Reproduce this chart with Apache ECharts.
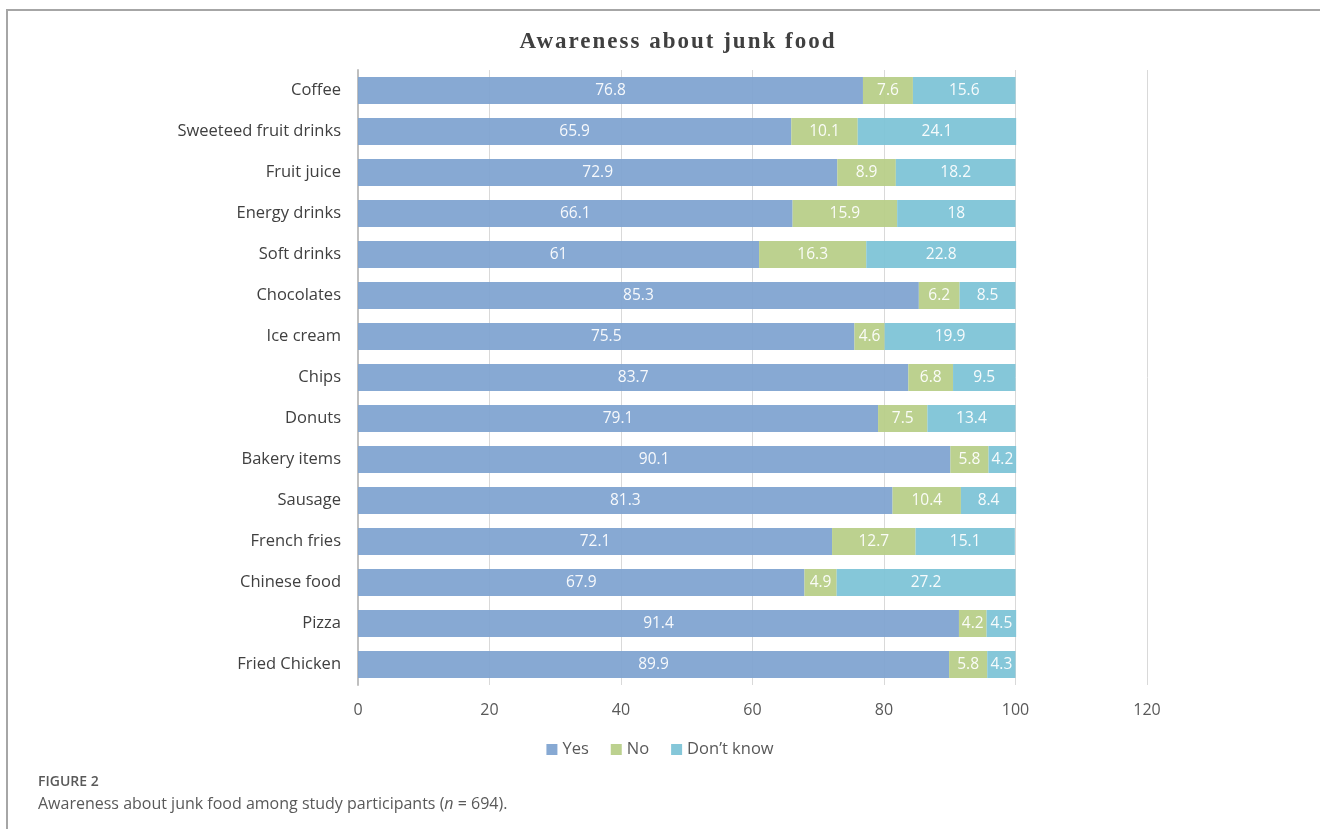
<!DOCTYPE html>
<html>
<head>
<meta charset="utf-8">
<script src="https://cdn.jsdelivr.net/npm/echarts@6/dist/echarts.min.js"></script>
<style>
  html, body { margin: 0; padding: 0; background: #fff; }
  #wrap { position: relative; width: 1320px; height: 829px; }
  #chart { width: 1320px; height: 829px; }
  #title {
    position: absolute; left: 0; top: 28px; width: 1356px; text-align: center;
    font: bold 23px "Liberation Serif", serif; letter-spacing: 2px; color: #404040;
  }
</style>
</head>
<body>
<div id="wrap">
  <div id="chart"></div>
  <div id="title">Awareness about junk food</div>
</div>
<script>
const categories = ['Coffee', 'Sweeteed fruit drinks', 'Fruit juice', 'Energy drinks', 'Soft drinks',
  'Chocolates', 'Ice cream', 'Chips', 'Donuts', 'Bakery items', 'Sausage', 'French fries',
  'Chinese food', 'Pizza', 'Fried Chicken']
const yesValues = [76.8, 65.9, 72.9, 66.1, 61, 85.3, 75.5, 83.7, 79.1, 90.1, 81.3, 72.1, 67.9, 91.4, 89.9]
const noValues = [7.6, 10.1, 8.9, 15.9, 16.3, 6.2, 4.6, 6.8, 7.5, 5.8, 10.4, 12.7, 4.9, 4.2, 5.8]
const dontKnowValues = [15.6, 24.1, 18.2, 18, 22.8, 8.5, 19.9, 9.5, 13.4, 4.2, 8.4, 15.1, 27.2, 4.5, 4.3]
const xTicks = [0, 20, 40, 60, 80, 100, 120]

const font = '"Open Sans", sans-serif'
const chart = echarts.init(document.getElementById('chart'))

const barLabel = { show: true, position: 'inside', color: '#fff', fontSize: 15.5, fontFamily: font }
// bars slightly see-through so the grid shows faintly, like the original
const mkSeries = (name, data, color) => ({
  name, type: 'bar', stack: 'total', data, barWidth: '66%',
  itemStyle: { color, opacity: 0.93 }, label: barLabel, emphasis: { disabled: true },
})

chart.setOption({
  animation: false,
  legend: {
    bottom: 66, left: 'center', itemWidth: 11, itemHeight: 11, itemGap: 22,
    icon: 'rect', textStyle: { fontFamily: font, fontSize: 16.5, color: '#595959' },
    data: ['Yes', 'No', 'Don\u2019t know'],
  },
  grid: { left: 358, right: 173, top: 70, bottom: 144, containLabel: false },
  xAxis: {
    type: 'value', min: xTicks[0], max: xTicks[xTicks.length - 1], interval: 20,
    axisLine: { show: false }, axisTick: { show: false },
    axisLabel: { fontFamily: font, fontSize: 16, color: '#595959', margin: 17 },
    splitLine: { lineStyle: { color: '#d9d9d9', width: 1 } },
  },
  yAxis: {
    type: 'category', data: categories, inverse: true,
    axisLine: { lineStyle: { color: '#bfbfbf', width: 2 } }, axisTick: { show: false },
    axisLabel: { fontFamily: font, fontSize: 16.5, color: '#404040', margin: 17 },
  },
  series: [
    mkSeries('Yes', yesValues, '#7EA2D0'),
    mkSeries('No', noValues, '#B7CE86'),
    mkSeries('Don\u2019t know', dontKnowValues, '#7CC3D6'),
  ],
  graphic: [
    { type: 'polyline', shape: { points: [[7, 829], [7, 10], [1320, 10]] }, style: { stroke: '#a6a6a6', lineWidth: 2, fill: null } },
    { type: 'text', left: 38, top: 775, style: { text: 'FIGURE 2', font: '600 14px "Open Sans", sans-serif', fill: '#595959' } },
    {
      type: 'text', left: 38, top: 796,
      style: {
        text: '{a|Awareness about junk food among study participants (}{i|n}{a| = 694).}',
        rich: {
          a: { fontFamily: '"Open Sans", sans-serif', fontSize: 16, fill: '#595959' },
          i: { fontFamily: '"Open Sans", sans-serif', fontSize: 16, fontStyle: 'italic', fill: '#595959' },
        },
      },
    },
  ],
})
</script>
</body>
</html>
